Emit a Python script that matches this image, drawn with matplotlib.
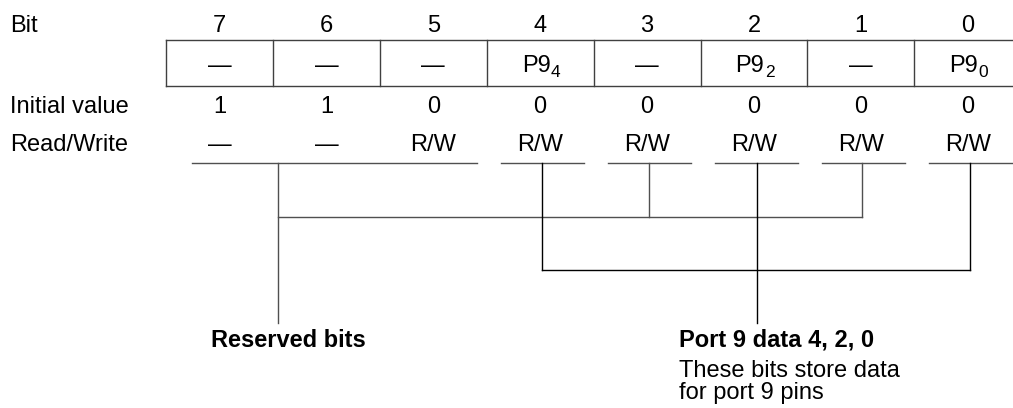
import matplotlib
matplotlib.use("Agg")
import matplotlib.pyplot as plt

# register data (bit 7 .. bit 0)
bits = [7, 6, 5, 4, 3, 2, 1, 0]
bit_names = ['—', '—', '—', 'P9', '—', 'P9', '—', 'P9']
bit_subs = ['', '', '', '4', '', '2', '', '0']
initial_values = ['1', '1', '0', '0', '0', '0', '0', '0']
read_write = ['—', '—', 'R/W', 'R/W', 'R/W', 'R/W', 'R/W', 'R/W']
row_labels = ['Bit', 'Initial value', 'Read/Write']

reserved_bits = [3, 1]          # plus the merged 7-5 group
port_bits = [4, 2, 0]
reserved_title = 'Reserved bits'
port_title = 'Port 9 data 4, 2, 0'
port_desc = ['These bits store data', 'for port 9 pins']

plt.rcParams['font.family'] = ['Liberation Sans', 'DejaVu Sans']

FS = 17
W, H = 1013, 408
fig = plt.figure(figsize=(W / 100, H / 100), dpi=100)
ax = fig.add_axes([0, 0, 1, 1])
ax.set_xlim(0, W)
ax.set_ylim(H, 0)
ax.axis('off')

# layout (pixels)
x0, cw = 166, 106.9
box_top, box_bot = 40, 86
y_bit, y_name, y_init, y_rw = 32, 72, 113, 151
y_under = 163
box_col = '#404040'
res_col = '#505050'


def cx(b):
    i = bits.index(b)
    return x0 + cw * (i + 0.5)


# row labels
for lbl, y in zip(row_labels, [y_bit, y_init, y_rw]):
    ax.text(10, y, lbl, fontsize=FS, va='baseline', ha='left')

# register box
ax.plot([x0, x0 + cw * 8], [box_top, box_top], color=box_col, lw=1)
ax.plot([x0, x0 + cw * 8], [box_bot, box_bot], color=box_col, lw=1)
for i in range(8):
    xl = x0 + cw * i
    ax.plot([xl, xl], [box_top, box_bot], color=box_col, lw=1)

for b, name, sub, iv, rw in zip(bits, bit_names, bit_subs, initial_values, read_write):
    x = cx(b)
    ax.text(x, y_bit, str(b), fontsize=FS, ha='center', va='baseline')
    if sub:
        gap = 0 if b == 4 else 2
        xs = x - 18 - gap / 2
        ax.text(xs, y_name, name, fontsize=FS, ha='left', va='baseline')
        ax.text(xs + 28 + gap, y_name + 5, sub, fontsize=12.5, ha='left', va='baseline')
    else:
        ax.text(x, y_name, name, fontsize=FS, ha='center', va='baseline')
    ax.text(x, y_init, iv, fontsize=FS, ha='center', va='baseline')
    ax.text(x, y_rw, rw, fontsize=FS, ha='center', va='baseline')

# underlines
ax.plot([192, 477], [y_under, y_under], color=res_col, lw=1)
for b in [4, 3, 2, 1, 0]:
    x = cx(b)
    ax.plot([x - 39, x + 44], [y_under, y_under], color=res_col, lw=1)

# reserved bits connector
y_bus1, x_res = 217, 278
ax.plot([x_res, x_res], [y_under, 323], color=res_col, lw=1)
for b in reserved_bits:
    ax.plot([cx(b) + 1.5, cx(b) + 1.5], [y_under, y_bus1], color=res_col, lw=1)
ax.plot([x_res, cx(1) + 1.5], [y_bus1, y_bus1], color=res_col, lw=1)

# port data connector
y_bus2 = 270
for b in [4, 0]:
    ax.plot([cx(b) + 2, cx(b) + 2], [y_under, y_bus2], color='black', lw=1)
ax.plot([cx(4) + 2, cx(0) + 2], [y_bus2, y_bus2], color='black', lw=1)
ax.plot([cx(2) + 3, cx(2) + 3], [y_under, 323], color='black', lw=1)

# labels at bottom
ax.text(211, 347, reserved_title, fontsize=FS, fontweight='bold', va='baseline')
ax.text(679, 347, port_title, fontsize=FS, fontweight='bold', va='baseline')
for k, line in enumerate(port_desc):
    ax.text(679, 377 + 22.5 * k, line, fontsize=FS, va='baseline')

fig.savefig('out.png', dpi=100)
